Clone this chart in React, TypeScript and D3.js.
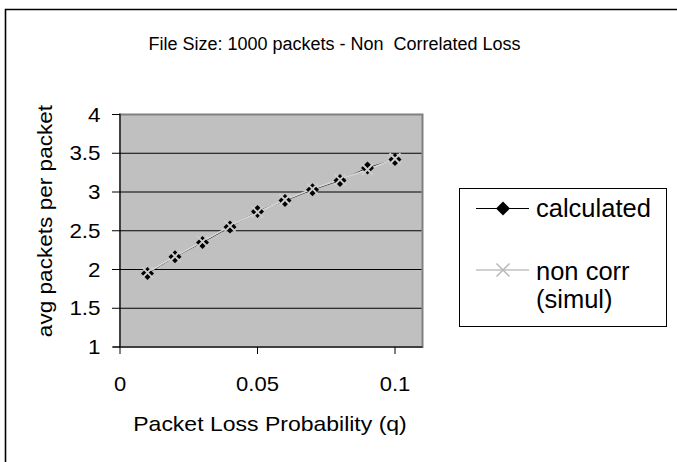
import React from "react";
import * as d3 from "d3";

const lossProb = [0.01, 0.02, 0.03, 0.04, 0.05, 0.06, 0.07, 0.08, 0.09, 0.1];
const calculated = [1.95, 2.165, 2.35, 2.55, 2.75, 2.89, 3.03, 3.15, 3.31, 3.42];
const simulated = [1.96, 2.17, 2.36, 2.56, 2.74, 2.9, 3.04, 3.16, 3.29, 3.43];
const xTicks = [0, 0.05, 0.1];
const yTicks = [1, 1.5, 2, 2.5, 3, 3.5, 4];

const W = 677;
const H = 462;
const FONT = "'Liberation Sans', Arial, sans-serif";

// horizontally widened text, anchored at (x, y)
function WideText(props: {
  x: number;
  y: number;
  size: number;
  sx: number;
  anchor?: "start" | "middle" | "end";
  rotate?: number;
  children: React.ReactNode;
}) {
  const { x, y, size, sx, anchor = "start", rotate = 0, children } = props;
  return (
    <text
      transform={`translate(${x},${y}) rotate(${rotate}) scale(${sx},1)`}
      textAnchor={anchor}
      fontSize={size}
      fill="#000"
    >
      {children}
    </text>
  );
}

export default function App() {
  const plot = { left: 120, right: 422.5, top: 114.5, bottom: 347 };
  const x = d3.scaleLinear().domain([0, 0.11]).range([plot.left, plot.right]);
  const y = d3.scaleLinear().domain([1, 4]).range([plot.bottom, plot.top]);

  const seriesLine = d3
    .line<number>()
    .x((_, i) => x(lossProb[i]))
    .y((d) => y(d));

  const diamond = (cx: number, cy: number, r: number) =>
    `M${cx},${cy - r}L${cx + r},${cy}L${cx},${cy + r}L${cx - r},${cy}Z`;
  const cross = (cx: number, cy: number, r: number) =>
    `M${cx - r},${cy - r}L${cx + r},${cy + r}M${cx - r},${cy + r}L${cx + r},${cy - r}`;

  return (
    <svg
      width={W}
      height={H}
      style={{ position: "absolute", left: 0, top: 0, background: "#fff" }}
      fontFamily={FONT}
    >
      <rect x={0} y={0} width={W} height={H} fill="#fff" />
      {/* outer chart frame */}
      <path d={`M5.5,${H + 5}V9.5H${W + 5}`} fill="none" stroke="#000" strokeWidth={1.6} />

      <text x={334.5} y={49.5} textAnchor="middle" fontSize={18} fill="#000">
        File Size: 1000 packets - Non{"\u00a0\u00a0"}Correlated Loss
      </text>

      {/* plot area */}
      <rect
        x={plot.left}
        y={plot.top}
        width={plot.right - plot.left}
        height={plot.bottom - plot.top}
        fill="#c0c0c0"
        stroke="#808080"
        strokeWidth={2}
      />
      {yTicks.slice(1, -1).map((t) => (
        <line key={t} x1={plot.left} x2={plot.right - 1} y1={y(t)} y2={y(t)} stroke="#000" strokeWidth={1} />
      ))}

      {/* axes */}
      <line x1={plot.left} x2={plot.left} y1={plot.top - 1} y2={plot.bottom} stroke="#000" strokeWidth={1} />
      <line x1={plot.left - 7} x2={plot.right} y1={plot.bottom} y2={plot.bottom} stroke="#000" strokeWidth={1} />
      {yTicks.map((t) => (
        <g key={t}>
          <line x1={plot.left - 8} x2={plot.left} y1={y(t)} y2={y(t)} stroke="#000" />
          <WideText x={100.5} y={y(t) + 7} size={20} sx={1.12} anchor="end">
            {t}
          </WideText>
        </g>
      ))}
      {xTicks.map((t) => (
        <g key={t}>
          <line x1={x(t)} x2={x(t)} y1={plot.bottom} y2={plot.bottom + 7} stroke="#000" />
          <WideText x={x(t)} y={391} size={20} sx={1.1} anchor="middle">
            {t}
          </WideText>
        </g>
      ))}

      <WideText x={270} y={431} size={20} sx={1.15} anchor="middle">
        Packet Loss Probability (q)
      </WideText>
      <WideText x={52} y={221} size={20} sx={1.13} anchor="middle" rotate={-90}>
        avg packets per packet
      </WideText>

      {/* series */}
      <path d={seriesLine(calculated) ?? ""} fill="none" stroke="#000" strokeWidth={1} />
      <path d={seriesLine(simulated) ?? ""} fill="none" stroke="#d8d8d8" strokeWidth={1.6} />
      {calculated.map((v, i) => (
        <path key={"c" + i} d={diamond(x(lossProb[i]), y(v), 6.5)} fill="#000" />
      ))}
      {simulated.map((v, i) => (
        <path
          key={"s" + i}
          d={cross(x(lossProb[i]), y(v), 5.5)}
          stroke="#cccccc"
          strokeWidth={2}
          fill="none"
        />
      ))}

      {/* legend */}
      <rect x={459.5} y={188.5} width={207} height={138} fill="#fff" stroke="#000" strokeWidth={1} />
      <line x1={476} x2={529} y1={208.5} y2={208.5} stroke="#000" />
      <path d={diamond(503, 208.5, 7)} fill="#000" />
      <text x={536} y={216.5} fontSize={25.5}>
        calculated
      </text>
      <line x1={476} x2={529} y1={270} y2={270} stroke="#c0c0c0" strokeWidth={1.5} />
      <path d={cross(503, 270, 6.5)} stroke="#b8b8b8" strokeWidth={1.5} fill="none" />
      <text x={536} y={280} fontSize={25.5}>
        non corr
      </text>
      <text x={536} y={308} fontSize={25.5}>
        (simul)
      </text>
    </svg>
  );
}
